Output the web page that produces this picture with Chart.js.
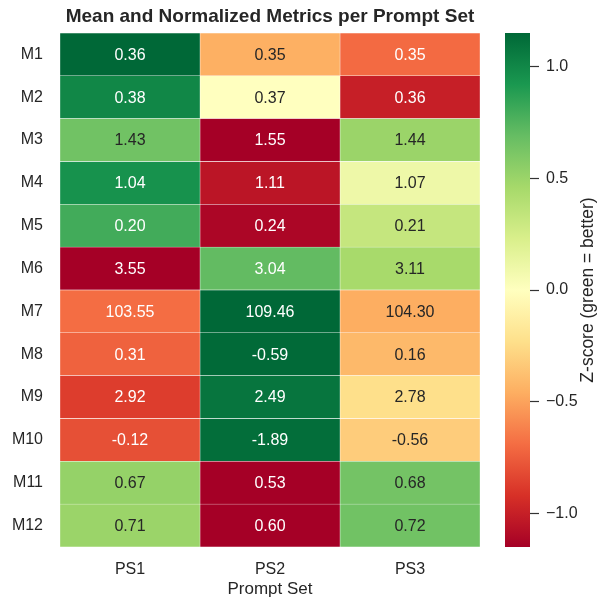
<!DOCTYPE html>
<html>
<head>
<meta charset="utf-8">
<script src="https://cdn.jsdelivr.net/npm/chart.js@4.4.0/dist/chart.umd.min.js"></script>
<style>
    html, body { margin: 0; padding: 0; background: #fff; }
    #wrap { position: relative; width: 598px; height: 601px; }
    #heat { position: absolute; left: 0; top: 0; }
    #cbar { position: absolute; left: 480px; top: 0; }
</style>
</head>
<body>
<div id="wrap">
    <canvas id="heat" width="598" height="601"></canvas>
    <canvas id="cbar" width="118" height="601"></canvas>
</div>
<script>
// --- dados ---
const metrics = ['M1', 'M2', 'M3', 'M4', 'M5', 'M6', 'M7', 'M8', 'M9', 'M10', 'M11', 'M12'];
const promptSets = ['PS1', 'PS2', 'PS3'];

// valores médios (anotações)
const meanPS1 = [0.36, 0.38, 1.43, 1.04, 0.20, 3.55, 103.55, 0.31, 2.92, -0.12, 0.67, 0.71];
const meanPS2 = [0.35, 0.37, 1.55, 1.11, 0.24, 3.04, 109.46, -0.59, 2.49, -1.89, 0.53, 0.60];
const meanPS3 = [0.35, 0.36, 1.44, 1.07, 0.21, 3.11, 104.30, 0.16, 2.78, -0.56, 0.68, 0.72];

// z-scores (cor), verde = melhor
const zPS1 = [1.15, 1.00, 0.65, 0.95, 0.80, -1.15, -0.69, -0.73, -0.87, -0.80, 0.52, 0.50];
const zPS2 = [-0.45, 0.00, -1.15, -1.05, -1.12, 0.70, 1.15, 1.14, 1.09, 1.12, -1.15, -1.15];
const zPS3 = [-0.70, -1.00, 0.50, 0.10, 0.32, 0.45, -0.46, -0.41, -0.23, -0.32, 0.64, 0.65];

const zMin = -1.15, zMax = 1.15;
const cbarTicks = [-1.0, -0.5, 0.0, 0.5, 1.0];

const meanCols = [meanPS1, meanPS2, meanPS3];
const zCols = [zPS1, zPS2, zPS3];

// RdYlGn
const rdylgn = ['#a50026', '#d73027', '#f46d43', '#fdae61', '#fee08b', '#ffffbf',
    '#d9ef8b', '#a6d96a', '#66bd63', '#1a9850', '#006837'];

function hexToRgb(h) {
    return [parseInt(h.slice(1, 3), 16), parseInt(h.slice(3, 5), 16), parseInt(h.slice(5, 7), 16)];
}

function cmapRgb(z) {
    let t = (z - zMin) / (zMax - zMin);
    t = Math.max(0, Math.min(1, t));
    const pos = t * (rdylgn.length - 1);
    const i = Math.min(Math.floor(pos), rdylgn.length - 2);
    const f = pos - i;
    const a = hexToRgb(rdylgn[i]), b = hexToRgb(rdylgn[i + 1]);
    return a.map((v, k) => Math.round(v + (b[k] - v) * f));
}

function cmap(z) {
    const c = cmapRgb(z);
    return `rgb(${c[0]},${c[1]},${c[2]})`;
}

// mesma regra do seaborn para a cor do texto
function textColor(z) {
    const lin = cmapRgb(z).map(v => {
        v = v / 255;
        return v <= 0.03928 ? v / 12.92 : Math.pow((v + 0.055) / 1.055, 2.4);
    });
    const lum = 0.2126 * lin[0] + 0.7152 * lin[1] + 0.0722 * lin[2];
    return lum > 0.408 ? '#262626' : '#ffffff';
}

const FONT = "'Liberation Sans', Arial, sans-serif";
const TXT = '#262626';

// anotações nas células
const annotPlugin = {
    id: 'annot',
    afterDatasetsDraw(chart) {
        const ctx = chart.ctx;
        ctx.save();
        ctx.font = `16px ${FONT}`;
        ctx.textAlign = 'center';
        ctx.textBaseline = 'middle';
        chart.data.datasets.forEach((ds, c) => {
            const meta = chart.getDatasetMeta(c);
            meta.data.forEach((el, r) => {
                const p = el.getCenterPoint();
                ctx.fillStyle = textColor(zCols[c][r]);
                ctx.fillText(meanCols[c][r].toFixed(2), p.x, p.y + 1);
            });
        });
        ctx.restore();
    }
};

new Chart(document.getElementById('heat'), {
    type: 'bar',
    data: {
        labels: metrics,
        datasets: promptSets.map((ps, c) => ({
            label: ps,
            data: metrics.map(() => [c, c + 1]),
            backgroundColor: zCols[c].map(cmap),
            borderColor: '#ffffff',
            borderWidth: 0.5,
            borderSkipped: false,
            grouped: false,
            barPercentage: 1,
            categoryPercentage: 1
        }))
    },
    options: {
        indexAxis: 'y',
        responsive: false,
        animation: false,
        layout: { padding: { left: 0, right: 118, top: 0, bottom: 0 } },
        plugins: {
            legend: { display: false },
            tooltip: { enabled: false },
            title: {
                display: true,
                fullSize: false,
                text: 'Mean and Normalized Metrics per Prompt Set',
                color: TXT,
                font: { family: FONT, size: 19, weight: 'bold', lineHeight: 1.2 },
                padding: { top: 5, bottom: 5.2 }
            }
        },
        scales: {
            y: {
                type: 'category',
                grid: { display: false, drawTicks: false },
                border: { display: false },
                ticks: { color: TXT, padding: 17, font: { family: FONT, size: 16 } },
                afterFit(scale) { scale.width = 60; }
            },
            x: {
                type: 'linear',
                min: 0,
                max: promptSets.length,
                grid: { display: false, drawTicks: false },
                border: { display: false },
                afterBuildTicks(scale) {
                    scale.ticks = promptSets.map((p, i) => ({ value: i + 0.5 }));
                },
                ticks: {
                    color: TXT,
                    padding: 13,
                    font: { family: FONT, size: 16 },
                    callback: (v) => promptSets[Math.floor(v)]
                },
                title: {
                    display: true,
                    text: 'Prompt Set',
                    color: TXT,
                    font: { family: FONT, size: 17 },
                    padding: { top: 0, bottom: 1 }
                },
                afterFit(scale) { scale.height = 54; }
            }
        }
    },
    plugins: [annotPlugin]
});

// --- barra de cores ---
const cbarTitlePlugin = {
    id: 'cbarTitle',
    afterDraw(chart) {
        const ctx = chart.ctx;
        const a = chart.chartArea;
        ctx.save();
        ctx.translate(108, (a.top + a.bottom) / 2);
        ctx.rotate(-Math.PI / 2);
        ctx.font = `17.5px ${FONT}`;
        ctx.fillStyle = TXT;
        ctx.textAlign = 'center';
        ctx.textBaseline = 'middle';
        ctx.fillText('Z-score (green = better)', 0, 0);
        ctx.restore();
    }
};

new Chart(document.getElementById('cbar'), {
    type: 'bar',
    data: {
        labels: [''],
        datasets: [{
            data: [[zMin, zMax]],
            backgroundColor(context) {
                const area = context.chart.chartArea;
                if (!area) return '#ffffbf';
                const g = context.chart.ctx.createLinearGradient(0, area.bottom, 0, area.top);
                rdylgn.forEach((col, i) => g.addColorStop(i / (rdylgn.length - 1), col));
                return g;
            },
            borderWidth: 0,
            barPercentage: 1,
            categoryPercentage: 1
        }]
    },
    options: {
        responsive: false,
        animation: false,
        layout: { padding: { left: 25, right: 0, top: 33, bottom: 54 } },
        plugins: { legend: { display: false }, tooltip: { enabled: false } },
        scales: {
            x: { display: false },
            y: {
                position: 'right',
                min: zMin,
                max: zMax,
                afterBuildTicks(scale) {
                    scale.ticks = cbarTicks.map(v => ({ value: v }));
                },
                grid: {
                    drawOnChartArea: false,
                    drawTicks: true,
                    tickLength: 9,
                    tickWidth: 1.2,
                    tickColor: '#333333'
                },
                border: { display: false },
                ticks: {
                    color: TXT,
                    padding: 7,
                    font: { family: FONT, size: 16 },
                    callback: (v) => v.toFixed(1).replace('-', '\u2212')
                },
                afterFit(scale) { scale.width = 68; }
            }
        }
    },
    plugins: [cbarTitlePlugin]
});
</script>
</body>
</html>
